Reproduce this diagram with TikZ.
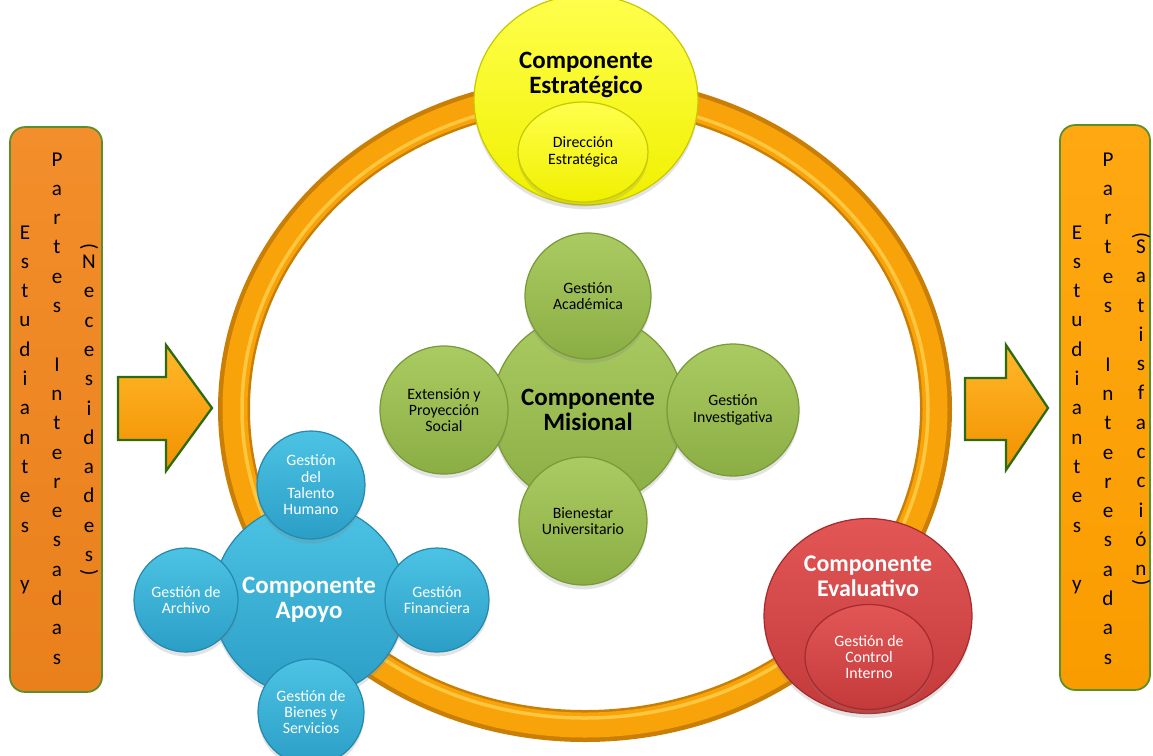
\documentclass[tikz,border=0pt]{standalone}
\usepackage{fontspec}
\setmainfont{Carlito}
\usetikzlibrary{shapes.geometric,shadows}

\definecolor{barleft}{HTML}{F28E2B}
\definecolor{barleftlow}{HTML}{E9801C}
\definecolor{barright}{HTML}{FFA812}
\definecolor{barrightlow}{HTML}{F99C00}
\definecolor{bargreen}{HTML}{5A8F29}
\definecolor{arrowgreen}{HTML}{2D6A10}
\definecolor{arrowtop}{HTML}{FFB82A}
\definecolor{arrowlow}{HTML}{F29100}
\definecolor{ringmid}{HTML}{F9A30A}
\definecolor{ringdark}{HTML}{C97F05}
\definecolor{ringlight}{HTML}{FFC640}
\definecolor{greentop}{HTML}{AACB62}
\definecolor{greenlow}{HTML}{8BAE44}
\definecolor{greenedge}{HTML}{789A38}
\definecolor{bluetop}{HTML}{4CC3E4}
\definecolor{bluelow}{HTML}{2B9EC6}
\definecolor{blueedge}{HTML}{2689AE}
\definecolor{redtop}{HTML}{E25656}
\definecolor{redlow}{HTML}{C43A3A}
\definecolor{rededge}{HTML}{A52C2C}
\definecolor{yeltop}{HTML}{FFFF4D}
\definecolor{yellow2}{HTML}{F0F000}
\definecolor{yeledge}{HTML}{C9C900}

\tikzset{
  ball/.style={circle, inner sep=0pt, align=center, line width=0.7pt,
    drop shadow={opacity=0.22, shadow xshift=0pt, shadow yshift=-2.5pt}},
  greenball/.style={ball, draw=greenedge, top color=greentop, bottom color=greenlow},
  blueball/.style={ball, draw=blueedge, top color=bluetop, bottom color=bluelow, text=white},
  redball/.style={ball, ellipse, draw=rededge, top color=redtop, bottom color=redlow, text=white},
  yellowball/.style={ball, ellipse, draw=yeledge, top color=yeltop, bottom color=yellow2},
  title/.style={align=center, font=\fontsize{14.2}{14.2}\selectfont\bfseries},
  small/.style={font=\fontsize{9}{9.3}\selectfont},
  bar/.style={rectangle, rounded corners=0.3cm, draw=bargreen, line width=1pt, inner sep=0pt},
  letter/.style={anchor=base, inner sep=0pt, font=\fontsize{12}{12}\selectfont},
  paren/.style={inner sep=0pt, rotate=-90, font=\fontsize{12}{12}\selectfont},
  blockarrow/.style={draw=arrowgreen, line width=1.3pt, line join=miter,
    top color=arrowtop, bottom color=arrowlow}
}

\begin{document}
\begin{tikzpicture}[x=0.02cm, y=-0.02cm]
  \useasboundingbox (0,0) rectangle (1153,755);

  % ring
  \draw[ringdark, line width=0.64cm] (585,409) ellipse [x radius=351, y radius=317];
  \draw[ringmid, line width=0.5cm] (585,409) ellipse [x radius=350, y radius=316];
  \draw[ringlight, line width=0.07cm] (585,409) ellipse [x radius=343, y radius=309];

  % input bar
  \node[bar, top color=barleft, bottom color=barleftlow,
        minimum width=1.84cm, minimum height=11.3cm] (needs) at (56,409.5) {};
  \foreach \ch [count=\i from 0] in {E,s,t,u,d,i,a,n,t,e,s,,y}
    \node[letter] (needsA\i) at (25,{239+29.3*\i}) {\ch};
  \foreach \ch [count=\i from 0] in {P,a,r,t,e,s,,I,n,t,e,r,e,s,a,d,a,s}
    \node[letter] (needsB\i) at (57,{166+29.3*\i}) {\ch};
  \node[paren] (needsOpen) at (89,247) {(};
  \foreach \ch [count=\i from 0] in {N,e,c,e,s,i,d,a,d,e,s}
    \node[letter] (needsC\i) at (89,{268.5+29.3*\i}) {\ch};
  \node[paren] (needsClose) at (89,573) {)};

  % output bar
  \node[bar, top color=barright, bottom color=barrightlow,
        minimum width=1.8cm, minimum height=11.3cm] (satis) at (1105,407.5) {};
  \foreach \ch [count=\i from 0] in {E,s,t,u,d,i,a,n,t,e,s,,y}
    \node[letter] (satisA\i) at (1077,{239+29.3*\i}) {\ch};
  \foreach \ch [count=\i from 0] in {P,a,r,t,e,s,,I,n,t,e,r,e,s,a,d,a,s}
    \node[letter] (satisB\i) at (1108,{166+29.3*\i}) {\ch};
  \node[paren] (satisOpen) at (1141,236) {(};
  \foreach \ch [count=\i from 0] in {S,a,t,i,s,f,a,c,c,i,ó,n}
    \node[letter] (satisC\i) at (1141,{253.4+29.3*\i}) {\ch};
  \node[paren] (satisClose) at (1141,583) {)};

  % arrows
  \draw[blockarrow] (118,377) -- (166,377) -- (166,345) -- (212,408)
    -- (166,471) -- (166,440) -- (118,440) -- cycle;
  \draw[blockarrow] (965,378) -- (1006,378) -- (1006,345) -- (1048,408)
    -- (1006,470) -- (1006,440) -- (965,440) -- cycle;

  % strategic
  \node[yellowball, minimum width=4.48cm, minimum height=4.2cm] (estr) at (586,100) {};
  \node[title] (estrT) at (586,75) {Componente\\Estratégico};
  \node[yellowball, small, minimum width=2.6cm, minimum height=2.0cm] (dir) at (583,152)
    {Dirección\\Estratégica};

  % evaluation
  \node[redball, minimum width=4.16cm, minimum height=3.9cm] (eval) at (868,616) {};
  \node[title, text=white, font=\fontsize{13.6}{14.2}\selectfont\bfseries] (evalT) at (868,576)
    {Componente\\Evaluativo};
  \node[redball, small, minimum width=2.56cm, minimum height=2.1cm] (ctrl) at (869,657)
    {Gestión de\\Control\\Interno};

  % mission
  \node[greenball, title, minimum size=3.84cm] (mis) at (588,410) {Componente\\Misional};
  \node[greenball, small, minimum size=2.52cm] (acad) at (588,296) {Gestión\\Académica};
  \node[greenball, small, minimum size=2.56cm] (ext) at (444,410) {Extensión y\\Proyección\\Social};
  \node[greenball, small, minimum size=2.64cm] (inv) at (733,410) {Gestión\\Investigativa};
  \node[greenball, small, minimum size=2.56cm] (bien) at (583,521) {Bienestar\\Universitario};

  % support
  \node[blueball, title, minimum size=3.84cm] (apoyo) at (309,600) {Componente\\Apoyo};
  \node[blueball, small, minimum size=2.16cm] (tal) at (311,485) {Gestión\\del\\Talento\\Humano};
  \node[blueball, small, minimum size=2.08cm] (arch) at (186,600) {Gestión de\\Archivo};
  \node[blueball, small, minimum size=2.08cm] (fin) at (437,600) {Gestión\\Financiera};
  \node[blueball, small, minimum size=2.12cm] (bie) at (311,712) {Gestión de\\Bienes y\\Servicios};
\end{tikzpicture}
\end{document}
